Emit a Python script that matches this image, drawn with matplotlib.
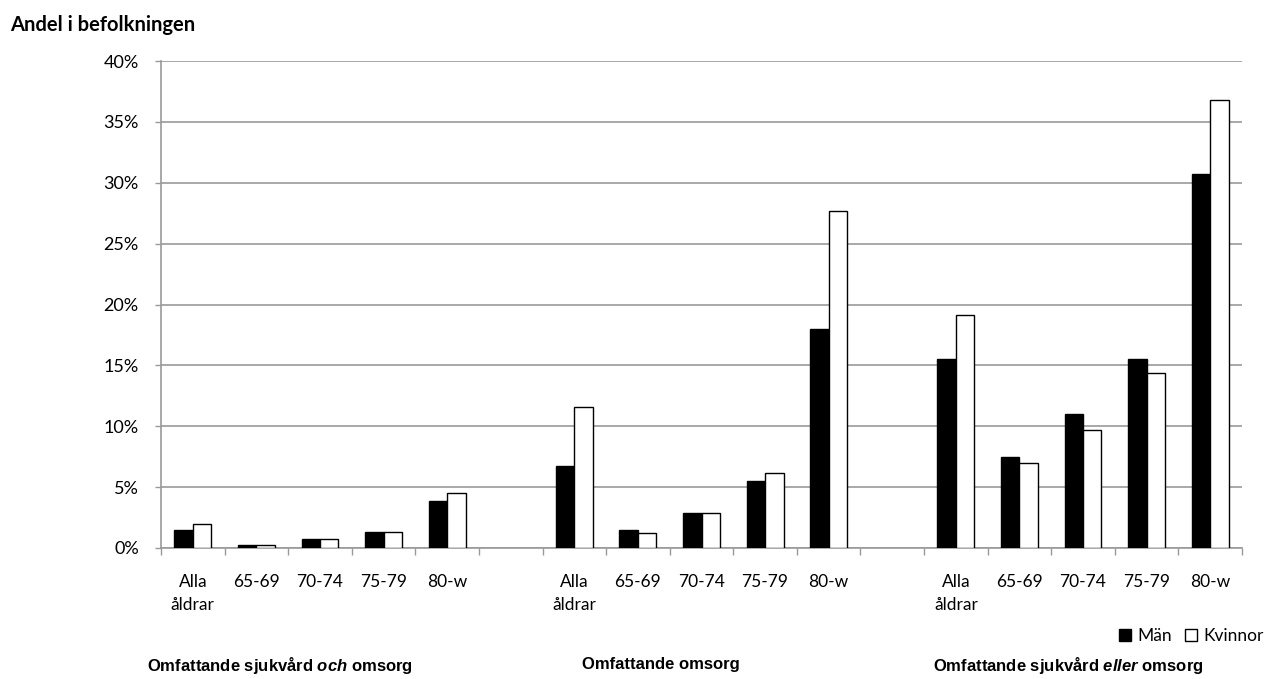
import numpy as np
import matplotlib
matplotlib.use("Agg")
import matplotlib.pyplot as plt
from matplotlib.lines import Line2D

# =========================
# DATA (share of population, %)
# =========================
AGE_LABELS = ["Alla\nåldrar", "65-69", "70-74", "75-79", "80-w"]
GROUP_TITLES = ["Omfattande sjukvård $\\it{och}$ omsorg",
                "Omfattande omsorg",
                "Omfattande sjukvård $\\it{eller}$ omsorg"]

# Group 1: Omfattande sjukvård och omsorg
man_g1 = [1.5, 0.25, 0.75, 1.3, 3.9]
kvinnor_g1 = [2.0, 0.25, 0.75, 1.35, 4.5]
# Group 2: Omfattande omsorg
man_g2 = [6.7, 1.5, 2.85, 5.5, 18.0]
kvinnor_g2 = [11.55, 1.2, 2.85, 6.2, 27.7]
# Group 3: Omfattande sjukvård eller omsorg
man_g3 = [15.5, 7.5, 11.0, 15.5, 30.7]
kvinnor_g3 = [19.15, 6.95, 9.7, 14.4, 36.8]

GROUPS_MAN = [man_g1, man_g2, man_g3]
GROUPS_KV = [kvinnor_g1, kvinnor_g2, kvinnor_g3]

# italic words inside the bold Arial-like group titles
plt.rcParams["mathtext.fontset"] = "custom"
plt.rcParams["mathtext.it"] = "Liberation Sans:bold:italic"
plt.rcParams["mathtext.rm"] = "Liberation Sans:bold"

# =========================
# LAYOUT
# =========================
fig = plt.figure(figsize=(12.72, 6.79), dpi=100)
ax = fig.add_axes([161 / 1272, 1 - 548 / 679, (1242 - 161) / 1272, (548 - 61) / 679])

GRID = "#999999"
TICK_FONT = "Lato"
bar_w = 0.29
n_age = len(AGE_LABELS)
slot_step = n_age + 1  # one empty slot between groups

tick_pos, tick_lab = [], []
for g, (m, k) in enumerate(zip(GROUPS_MAN, GROUPS_KV)):
    x = np.arange(n_age) + g * slot_step
    ax.bar(x - bar_w / 2, m, width=bar_w, color="black", edgecolor="black", linewidth=1.0, zorder=3)
    ax.bar(x + bar_w / 2, k, width=bar_w, color="white", edgecolor="black", linewidth=1.0, zorder=3)
    tick_pos.extend(x)
    tick_lab.extend(AGE_LABELS)

n_slots = 3 * n_age + 2
ax.set_xlim(-0.5, n_slots - 0.5)
ax.set_ylim(0, 40)

# y axis
ax.set_yticks(np.arange(0, 41, 5))
ax.set_yticklabels([f"{v}%" for v in range(0, 41, 5)], fontfamily=TICK_FONT, fontsize=13)
ax.yaxis.grid(True, color=GRID, linewidth=1.2, zorder=0)
ax.tick_params(axis="y", length=4, color=GRID, width=1, pad=12)

# x axis: labels at slot centres, tick marks at slot boundaries
ax.set_xticks(tick_pos)
ax.set_xticklabels(tick_lab, fontfamily=TICK_FONT, fontsize=12.5, linespacing=1.5, va="top")
ax.tick_params(axis="x", which="major", length=0, pad=19)
ax.set_xticks(np.arange(-0.5, n_slots, 1.0), minor=True)
ax.tick_params(axis="x", which="minor", length=5, color=GRID, width=1)

for s in ["top", "right"]:
    ax.spines[s].set_visible(False)
for s in ["left", "bottom"]:
    ax.spines[s].set_color(GRID)
    ax.spines[s].set_linewidth(1.2)

# texts
fig.text(10 / 1272, 1 - 25 / 679, "Andel i befolkningen", fontfamily="Lato",
         fontweight="bold", fontsize=14.5, va="center", ha="left")
title_x = [280, 661, 1068]
for tx, t in zip(title_x, GROUP_TITLES):
    fig.text(tx / 1272, 1 - 665 / 679, t, fontfamily="Liberation Sans",
             fontweight="bold", fontsize=12, ha="center", va="center")

handles = [Line2D([], [], marker="s", linestyle="none", markerfacecolor="black",
                  markeredgecolor="black", markersize=8.5),
           Line2D([], [], marker="s", linestyle="none", markerfacecolor="white",
                  markeredgecolor="black", markersize=8.5)]
fig.legend(handles, ["Män", "Kvinnor"], loc="center right",
           bbox_to_anchor=(1, 1 - 636 / 679), ncol=2, frameon=False,
           prop={"family": TICK_FONT, "size": 12.5}, handletextpad=0.3,
           columnspacing=0.7, borderaxespad=0.1, handlelength=0.8)

fig.savefig("out.png", dpi=100)
